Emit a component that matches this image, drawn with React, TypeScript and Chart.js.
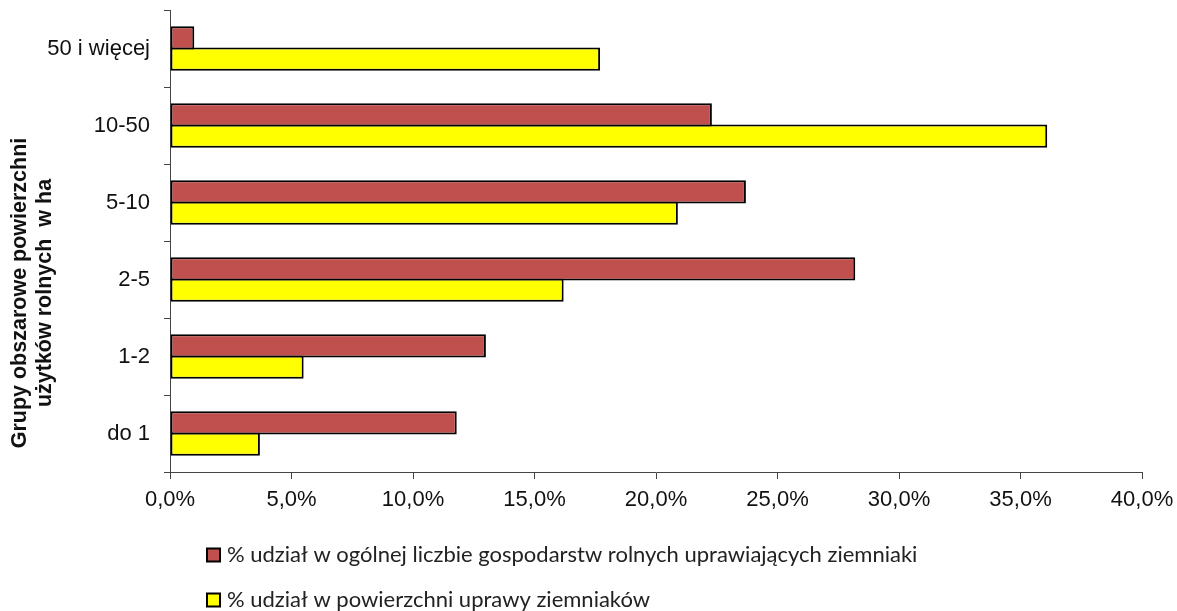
import React, { useEffect, useRef } from "react";
import { Chart, registerables } from "chart.js";

Chart.register(...registerables);

const categories = ["50 i więcej", "10-50", "5-10", "2-5", "1-2", "do 1"];
const shareOfFarms = [1.0, 22.3, 23.7, 28.2, 13.0, 11.8];
const shareOfArea = [17.7, 36.1, 20.9, 16.2, 5.5, 3.7];
const seriesNames = [
  "% udział w ogólnej liczbie gospodarstw rolnych uprawiających ziemniaki",
  "% udział w powierzchni uprawy ziemniaków",
];
const yTitleLines = ["Grupy obszarowe powierzchni", "użytków rolnych  w ha"];
const xMin = 0;
const xMax = 40;
const xStep = 5;

const yTitlePlugin = {
  id: "yTitlePlugin",
  afterDraw(chart: any) {
    const ctx = chart.ctx;
    ctx.save();
    ctx.translate(33, 293);
    ctx.rotate(-Math.PI / 2);
    ctx.font = "bold 21.5px 'Liberation Sans', Arial, sans-serif";
    ctx.fillStyle = "#111";
    ctx.textAlign = "center";
    ctx.textBaseline = "middle";
    ctx.fillText(yTitleLines[0], 0, -12.5);
    ctx.fillText(yTitleLines[1], 0, 12.5);
    ctx.restore();
  },
};

const legendPlugin = {
  id: "stackedLegend",
  afterDraw(chart: any) {
    const ctx = chart.ctx;
    const rows = [555, 600];
    ctx.save();
    chart.data.datasets.forEach((ds: any, i: number) => {
      const cy = rows[i];
      ctx.fillStyle = ds.backgroundColor;
      ctx.fillRect(207, cy - 6.5, 13, 13);
      ctx.strokeStyle = "#000";
      ctx.lineWidth = 2;
      ctx.strokeRect(207, cy - 6.5, 13, 13);
      ctx.font = "22px Lato, 'Open Sans', sans-serif";
      ctx.fillStyle = "#222";
      ctx.textAlign = "left";
      ctx.textBaseline = "middle";
      ctx.fillText(ds.label, 227, cy);
    });
    ctx.restore();
  },
};

export default function App() {
  const ref = useRef<HTMLCanvasElement | null>(null);
  useEffect(() => {
    if (!ref.current) return;
    const common = {
      borderColor: "#000",
      borderWidth: 2,
      borderSkipped: false,
      categoryPercentage: 0.55,
      barPercentage: 1.09,
    };
    const chart = new Chart(ref.current, {
      type: "bar",
      data: {
        labels: categories,
        datasets: [
          { label: seriesNames[0], data: shareOfFarms, backgroundColor: "#C0504D", ...common },
          { label: seriesNames[1], data: shareOfArea, backgroundColor: "#FFFF00", ...common },
        ],
      },
      options: {
        indexAxis: "y",
        animation: false,
        responsive: false,
        layout: { padding: { top: 10, right: 35, left: 0, bottom: 0 } },
        plugins: {
          legend: { display: false },
          tooltip: { enabled: false },
          title: { display: false },
        },
        scales: {
          x: {
            min: xMin,
            max: xMax,
            ticks: {
              stepSize: xStep,
              color: "#111",
              padding: 8,
              font: { family: "'Liberation Sans', Arial, sans-serif", size: 22 },
              callback: (v: any) => Number(v).toFixed(1).replace(".", ",") + "%",
            },
            grid: {
              display: true,
              drawOnChartArea: false,
              drawTicks: true,
              tickLength: 7,
              color: "#444",
            },
            border: { display: true, color: "#444", width: 1 },
            afterFit: (s: any) => {
              s.height = 139;
              s.paddingLeft = 0;
              s.paddingRight = 0;
            },
          },
          y: {
            ticks: {
              color: "#111",
              padding: 14,
              font: { family: "'Liberation Sans', Arial, sans-serif", size: 22 },
            },
            grid: {
              display: true,
              drawOnChartArea: false,
              drawTicks: true,
              tickLength: 6,
              offset: true,
              color: "#444",
            },
            border: { display: true, color: "#444", width: 1 },
            afterFit: (s: any) => {
              s.width = 170;
              s.paddingTop = 0;
              s.paddingBottom = 0;
            },
          },
        },
      },
      plugins: [yTitlePlugin, legendPlugin],
    });
    return () => chart.destroy();
  }, []);
  return (
    <canvas
      ref={ref}
      width={1177}
      height={611}
      style={{ position: "absolute", left: 0, top: 0, width: 1177, height: 611 }}
    />
  );
}
